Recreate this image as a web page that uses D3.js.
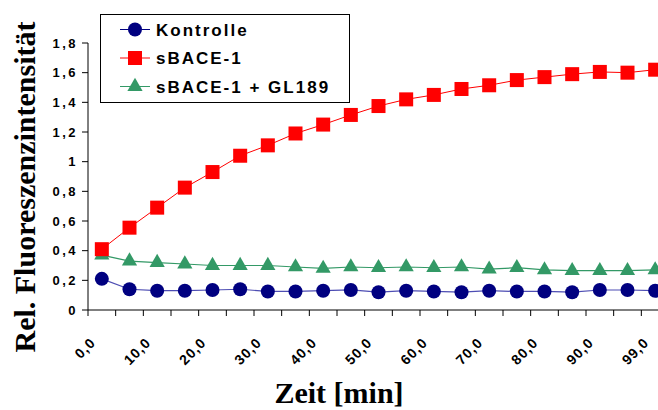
<!DOCTYPE html>
<html>
<head>
<meta charset="utf-8">
<script src="https://cdn.jsdelivr.net/npm/d3@7"></script>
<style>
  body { margin: 0; background: #fff; }
  svg { display: block; }
  .tick-label { font-family: Arial, "Liberation Sans", sans-serif; font-weight: bold; font-size: 13px; fill: #000; }
  .y-label { letter-spacing: 2.5px; }
  .x-label { font-size: 14px; letter-spacing: 1px; }
  .title { font-family: "Times New Roman", "Liberation Serif", serif; font-weight: bold; font-size: 30px; fill: #000; }
  .legend-text { font-family: Arial, "Liberation Sans", sans-serif; font-weight: bold; font-size: 17px; letter-spacing: 2px; fill: #000; }
</style>
</head>
<body>
<div id="chart"></div>
<script>
// time points (min), one category each
let times = [0, 5, 10, 15, 20, 25, 30, 35, 40, 45, 50, 55, 60, 65, 70, 75, 80, 85, 90, 95, 99];

let kontrolle = [0.21, 0.14, 0.13, 0.13, 0.135, 0.14, 0.125, 0.125, 0.13, 0.135, 0.12, 0.13, 0.125, 0.12, 0.13, 0.125, 0.125, 0.12, 0.135, 0.135, 0.13];
let sbace = [0.41, 0.555, 0.69, 0.825, 0.93, 1.04, 1.11, 1.19, 1.25, 1.315, 1.375, 1.42, 1.45, 1.49, 1.515, 1.55, 1.57, 1.59, 1.605, 1.6, 1.62];
let sbaceGl = [0.37, 0.33, 0.32, 0.31, 0.30, 0.30, 0.30, 0.29, 0.28, 0.29, 0.285, 0.29, 0.285, 0.29, 0.275, 0.285, 0.27, 0.265, 0.265, 0.265, 0.27];

let seriesNames = ['Kontrolle', 'sBACE-1', 'sBACE-1 + GL189'];
let yTicks = [0, 0.2, 0.4, 0.6, 0.8, 1, 1.2, 1.4, 1.6, 1.8];
let yTickLabels = ['0', '0,2', '0,4', '0,6', '0,8', '1', '1,2', '1,4', '1,6', '1,8'];
let xTickLabels = ['0,0', '', '10,0', '', '20,0', '', '30,0', '', '40,0', '', '50,0', '', '60,0', '', '70,0', '', '80,0', '', '90,0', '', '99,0'];

let buildChart = function() {
  let width = 658, height = 410;
  let svg = d3.select('#chart').append('svg')
    .attr('width', width)
    .attr('height', height);

  // plot area: left axis at x=88, x=0 line at y=310
  let x = d3.scaleBand().domain(times).range([88, 669]);
  let y = d3.scaleLinear().domain([0, 1.8]).range([310, 43]);
  let cx = t => x(t) + x.bandwidth() / 2;

  // y axis
  let gy = svg.append('g');
  gy.append('line')
    .attr('x1', 88).attr('x2', 88)
    .attr('y1', y(1.8)).attr('y2', y(0))
    .attr('stroke', '#000');
  yTicks.forEach(function(v, i) {
    gy.append('line')
      .attr('x1', 82).attr('x2', 88)
      .attr('y1', y(v)).attr('y2', y(v))
      .attr('stroke', '#000');
    gy.append('text')
      .classed('tick-label y-label', true)
      .attr('x', 78).attr('y', y(v))
      .attr('dy', '0.36em')
      .attr('text-anchor', 'end')
      .text(yTickLabels[i]);
  });

  // x axis (ticks between categories)
  let gx = svg.append('g');
  gx.append('line')
    .attr('x1', 88).attr('x2', width)
    .attr('y1', y(0)).attr('y2', y(0))
    .attr('stroke', '#000');
  times.forEach(function(t, i) {
    gx.append('line')
      .attr('x1', x(t)).attr('x2', x(t))
      .attr('y1', y(0)).attr('y2', y(0) + 6)
      .attr('stroke', '#000');
    if (xTickLabels[i]) {
      gx.append('text')
        .classed('tick-label x-label', true)
        .attr('transform', `translate(${cx(t) - 9}, ${y(0) + 30}) rotate(-45)`)
        .attr('text-anchor', 'end')
        .attr('dy', '0.36em')
        .text(xTickLabels[i]);
    }
  });

  // series lines + markers
  let line = d3.line().x((d, i) => cx(times[i])).y(d => y(d));

  svg.append('path').datum(kontrolle)
    .attr('d', line).attr('fill', 'none')
    .attr('stroke', '#4d4db3').attr('stroke-width', 1.2);
  svg.append('path').datum(sbaceGl)
    .attr('d', line).attr('fill', 'none')
    .attr('stroke', '#339966').attr('stroke-width', 1.2);
  svg.append('path').datum(sbace)
    .attr('d', line).attr('fill', 'none')
    .attr('stroke', '#ff0000').attr('stroke-width', 1);

  let tri = d3.symbol().type(d3.symbolTriangle).size(100);
  let drawTri = function(sel, px, py) {
    sel.append('path').attr('d', tri())
      .attr('transform', `translate(${px}, ${py})`)
      .attr('fill', '#339966');
  };
  let drawSq = function(sel, px, py) {
    sel.append('rect')
      .attr('x', px - 7).attr('y', py - 7)
      .attr('width', 14).attr('height', 14)
      .attr('fill', '#ff0000');
  };
  let drawCirc = function(sel, px, py) {
    sel.append('circle')
      .attr('cx', px).attr('cy', py).attr('r', 7)
      .attr('fill', '#000080');
  };

  let gm = svg.append('g');
  sbaceGl.forEach((v, i) => drawTri(gm, cx(times[i]), y(v)));
  kontrolle.forEach((v, i) => drawCirc(gm, cx(times[i]), y(v)));
  sbace.forEach((v, i) => drawSq(gm, cx(times[i]), y(v)));

  // legend
  let lg = svg.append('g');
  lg.append('rect')
    .attr('x', 100.5).attr('y', 14.5)
    .attr('width', 249).attr('height', 88)
    .attr('fill', '#fff').attr('stroke', '#000');
  let legendColors = ['#000080', '#ff0000', '#339966'];
  let markers = [drawCirc, drawSq, drawTri];
  seriesNames.forEach(function(name, i) {
    let ly = 29.5 + i * 28.5;
    lg.append('line')
      .attr('x1', 120).attr('x2', 150)
      .attr('y1', ly).attr('y2', ly)
      .attr('stroke', legendColors[i]);
    markers[i](lg, 135, ly);
    lg.append('text')
      .classed('legend-text', true)
      .attr('x', 156).attr('y', ly)
      .attr('dy', '0.36em')
      .text(name);
  });

  // axis titles
  svg.append('text')
    .classed('title', true)
    .attr('transform', `translate(35, 187) rotate(-90)`)
    .attr('text-anchor', 'middle')
    .text('Rel. Fluoreszenzintensität');
  svg.append('text')
    .classed('title', true)
    .attr('x', 339).attr('y', 403)
    .attr('text-anchor', 'middle')
    .text('Zeit [min]');
};

buildChart();
</script>
</body>
</html>
